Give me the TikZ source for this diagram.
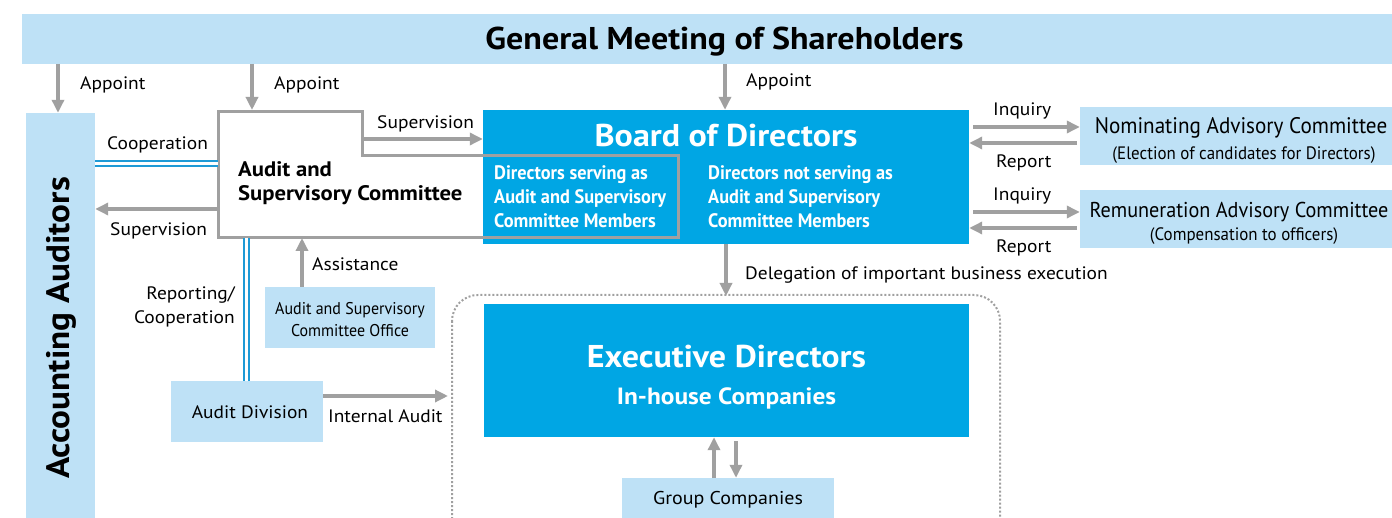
\documentclass[tikz,border=0pt]{standalone}
\usepackage{fontspec}
\setmainfont{PT Sans}[FakeStretch=1.08]
\newfontfamily\cond{PT Sans}[FakeStretch=0.94]
\usetikzlibrary{arrows.meta,calc}
\definecolor{lblue}{HTML}{BEE1F6}
\definecolor{mblue}{HTML}{00A6E4}
\definecolor{agray}{HTML}{A0A0A0}
\definecolor{dblue}{HTML}{1E9AD6}
\tikzset{
  lbox/.style={fill=lblue, draw=none, inner sep=0},
  bbox/.style={fill=mblue, draw=none, inner sep=0},
  arr/.style={draw=agray, line width=3.6pt, -{Triangle[length=13pt,width=12pt]}},
  dbl/.style={draw=dblue, line width=1.8pt, double=white, double distance=2.8pt},
  lbl/.style={inner sep=0, font=\fontsize{18}{24}\selectfont, text=black},
  wt/.style={inner sep=0, text=white},
}
\begin{document}
\begin{tikzpicture}[x=1pt,y=-1pt]
\useasboundingbox (0,0) rectangle (1392,518);
\clip (0,0) rectangle (1392,518);
% boxes
\node[lbox, minimum width=1405, minimum height=50] (gm) at (724.5,39) {};
\node[inner sep=0, anchor=base, font=\fontsize{31.5}{34}\bfseries\selectfont] (gmt) at (724.5,50) {General Meeting of Shareholders};
\node[lbox, minimum width=69, minimum height=430] (aa) at (60.5,328) {};
\node[inner sep=0, rotate=90, font=\fontsize{32.5}{34}\bfseries\selectfont] (aat) at (61,328) {Accounting Auditors};
\node[bbox, minimum width=486, minimum height=134] (bod) at (726,177) {};
\node[inner sep=0, anchor=base, wt, font=\fontsize{31.5}{34}\bfseries\selectfont] at (726,147) {Board of Directors};
\node[inner sep=0, anchor=base west, wt, align=left, font=\cond\fontsize{19.5}{24}\bfseries\selectfont] at (494,227.5) {Directors serving as\\Audit and Supervisory\\Committee Members};
\node[inner sep=0, anchor=base west, wt, align=left, font=\cond\fontsize{19.5}{24}\bfseries\selectfont] at (708,227.5) {Directors not serving as\\Audit and Supervisory\\Committee Members};
% audit & supervisory committee outline
\node[inner sep=0, minimum width=144, minimum height=126] (asc) at (290,175) {};
\draw[agray, line width=3pt] (218,112) -- (362,112) -- (362,156) -- (678,156) -- (678,238) -- (218,238) -- cycle;
\node[inner sep=0, anchor=base west, align=left, font=\fontsize{21}{24}\bfseries\selectfont] (asct) at (238,201) {Audit and\\Supervisory Committee};
% committees right
\node[lbox, minimum width=328, minimum height=58] (nac) at (1244,136) {};
\node[inner sep=0, anchor=base, font=\cond\fontsize{22.5}{26}\selectfont] at (1241,134) {Nominating Advisory Committee};
\node[inner sep=0, anchor=base, font=\cond\fontsize{18}{20}\selectfont] at (1244,159.5) {(Election of candidates for Directors)};
\node[lbox, minimum width=328, minimum height=58] (rac) at (1244,219) {};
\node[inner sep=0, anchor=base, font=\cond\fontsize{21.5}{26}\selectfont] at (1239,218) {Remuneration Advisory Committee};
\node[inner sep=0, anchor=base, font=\cond\fontsize{18}{20}\selectfont] at (1244,240.5) {(Compensation to officers)};
% office and audit division
\node[lbox, minimum width=170, minimum height=61] (off) at (350,317.5) {};
\node[inner sep=0, anchor=base, align=center, font=\cond\fontsize{17}{22}\selectfont] at (350,337) {Audit and Supervisory\\Committee Office};
\node[lbox, minimum width=152, minimum height=61] (ad) at (247,411.5) {};
\node[inner sep=0, anchor=base, font=\fontsize{18}{22}\selectfont] at (250,418) {Audit Division};
% executive area
\draw[agray, line width=2pt, dotted, rounded corners=26pt] (452,295) rectangle (1000,560);
\node[bbox, minimum width=485, minimum height=133] (ex) at (726.5,370.5) {};
\node[inner sep=0, anchor=base, wt, font=\fontsize{31.5}{34}\bfseries\selectfont] at (726.5,368) {Executive Directors};
\node[inner sep=0, anchor=base, wt, font=\fontsize{23.5}{26}\bfseries\selectfont] at (726.5,405) {In-house Companies};
\node[lbox, minimum width=212, minimum height=50] (gc) at (728,503) {};
\node[inner sep=0, anchor=base, font=\fontsize{18.5}{20}\selectfont] at (728,504.5) {Group Companies};
% appoint arrows
\coordinate (ap1) at (58,64);
\coordinate (ap2) at (252,64);
\coordinate (ap3) at (725,64);
\draw[arr] (ap1) -- (ap1 |- aa.north);
\draw[arr] (ap2) -- (252,110);
\draw[arr] (ap3) -- (ap3 |- bod.north);
\node[lbl, anchor=base west] at (80,89.5) {Appoint};
\node[lbl, anchor=base west] at (274,89.5) {Appoint};
\node[lbl, anchor=base west] at (746,86.5) {Appoint};
% supervision to board
\coordinate (s1) at (362,139);
\draw[arr] (s1) -- (s1 -| bod.west);
\node[lbl, anchor=base west] at (377,128.5) {Supervision};
% cooperation
\coordinate (c1) at (218,163.5);
\draw[dbl] (c1) -- (c1 -| aa.east);
\node[lbl, anchor=base west] at (107,149.5) {Cooperation};
% supervision to auditors
\coordinate (s2) at (218,209);
\draw[arr] (s2) -- (s2 -| aa.east);
\node[lbl, anchor=base west] at (110,236) {Supervision};
% reporting/cooperation
\coordinate (r1) at (246.5,238);
\draw[dbl] (r1) -- (r1 |- ad.north);
\node[lbl, anchor=base east, align=right] at (235,324) {Reporting/\\Cooperation};
% assistance
\coordinate (as1) at (302,238);
\draw[arr] (as1 |- off.north) -- (as1);
\node[lbl, anchor=base west] at (312,271) {Assistance};
% internal audit
\coordinate (ia) at (323,396);
\draw[arr] (ia) -- (448,396);
\node[lbl, anchor=base west] at (328,422) {Internal Audit};
% delegation
\coordinate (dl) at (726,244);
\draw[arr] (dl) -- (726,296);
\node[lbl, anchor=base west] at (745,280) {Delegation of important business execution};
% group companies arrows
\coordinate (g1) at (714,478);
\coordinate (g2) at (736,441);
\draw[arr] (g1) -- (g1 |- ex.south);
\draw[arr] (g2) -- (g2 |- gc.north);
% inquiry / report
\coordinate (i1) at (973,127);
\coordinate (r2) at (1077,143);
\coordinate (i2) at (973,212);
\coordinate (r3) at (1077,228);
\draw[arr] (i1) -- (i1 -| nac.west);
\draw[arr] (r2) -- (r2 -| bod.east);
\draw[arr] (i2) -- (i2 -| rac.west);
\draw[arr] (r3) -- (r3 -| bod.east);
\node[lbl, anchor=base west] at (993,116) {Inquiry};
\node[lbl, anchor=base west] at (996,168) {Report};
\node[lbl, anchor=base west] at (993,201) {Inquiry};
\node[lbl, anchor=base west] at (996,253) {Report};
\end{tikzpicture}
\end{document}
